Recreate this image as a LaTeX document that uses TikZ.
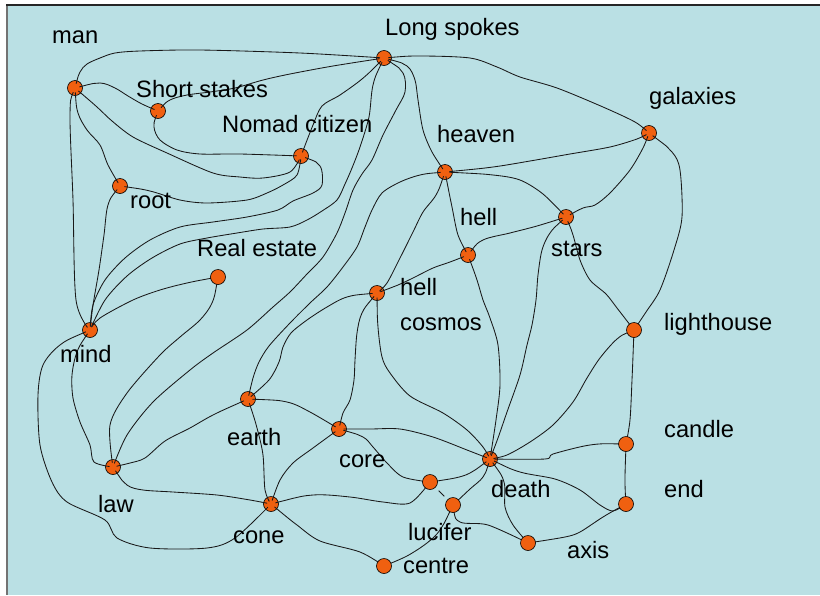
\documentclass[tikz,border=0pt]{standalone}
\usepackage{fontspec}
\setmainfont{Liberation Sans}
\begin{document}
\definecolor{paper}{RGB}{186,224,228}
\definecolor{dotfill}{RGB}{240,96,16}
\pgfdeclarelayer{sheet}
\pgfdeclarelayer{lowdots}
\pgfdeclarelayer{links}
\pgfsetlayers{sheet,lowdots,links,main}
\begin{tikzpicture}[x=1pt,y=-1pt,
  vtx/.style={circle,draw=black,line width=0.6pt,fill=dotfill,minimum size=15pt,inner sep=0pt},
  lbl/.style={anchor=base west,inner sep=0pt,font=\fontsize{23.7}{28}\selectfont},
  link/.style={draw=black!90,line width=0.85pt,line join=round,
    shorten <=4.5pt,shorten >=4.5pt}]
\useasboundingbox (0,0) rectangle (820,595);
% sheet and frame
\begin{pgfonlayer}{sheet}
\fill[white] (0,0) rectangle (820,595);
\fill[paper] (7,5) rectangle (820,595);
\draw[black!55,line width=2pt] (7,5) -- (7,595);
\draw[black!85,line width=1.4pt] (6,5) -- (820,5);
\end{pgfonlayer}

% vertices crossed by their connectors
\begin{pgfonlayer}{lowdots}
\node[vtx] (ls) at (384,58) {};
\node[vtx] (man) at (75,88) {};
\node[vtx] (ss) at (158,111) {};
\node[vtx] (nc) at (301,156) {};
\node[vtx] (gal) at (649,133) {};
\node[vtx] (heaven) at (445,172) {};
\node[vtx] (root) at (120,186) {};
\node[vtx] (stars) at (566,217) {};
\node[vtx] (hella) at (468,255) {};
\node[vtx] (hellb) at (377,293) {};
\node[vtx] (mind) at (90,330) {};
\node[vtx] (earth) at (248,399) {};
\node[vtx] (core) at (339,429) {};
\node[vtx] (death) at (490,459) {};
\node[vtx] (law) at (113,467) {};
\node[vtx] (cone) at (271,504) {};
\end{pgfonlayer}
% vertices drawn over their connectors
\node[vtx] (re) at (218,277) {};
\node[vtx] (light) at (634,330) {};
\node[vtx] (candle) at (626,444) {};
\node[vtx] (nx) at (430,482) {};
\node[vtx] (luc) at (453,505) {};
\node[vtx] (endn) at (626,504) {};
\node[vtx] (axis) at (528,543) {};
\node[vtx] (centre) at (384,566) {};

% labels
\node[lbl] (t-man) at (52,43) {man};
\node[lbl] (t-ls) at (385,35) {Long spokes};
\node[lbl] (t-ss) at (136,97) {Short stakes};
\node[lbl] (t-nc) at (222,132) {Nomad citizen};
\node[lbl] (t-gal) at (649,104) {galaxies};
\node[lbl] (t-heaven) at (437,142) {heaven};
\node[lbl] (t-root) at (130,208) {root};
\node[lbl] (t-hella) at (460,225) {hell};
\node[lbl] (t-stars) at (551,256) {stars};
\node[lbl] (t-re) at (197,256) {Real estate};
\node[lbl] (t-hellb) at (400,295) {hell};
\node[lbl] (t-cosmos) at (400,330) {cosmos};
\node[lbl] (t-mind) at (60,362) {mind};
\node[lbl] (t-light) at (664,330) {lighthouse};
\node[lbl] (t-earth) at (227,445) {earth};
\node[lbl] (t-candle) at (664,437) {candle};
\node[lbl] (t-core) at (339,467) {core};
\node[lbl] (t-death) at (491,497) {death};
\node[lbl] (t-end) at (664,497) {end};
\node[lbl] (t-law) at (98,512) {law};
\node[lbl] (t-lucifer) at (408,540) {lucifer};
\node[lbl] (t-cone) at (233,543) {cone};
\node[lbl] (t-axis) at (567,558) {axis};
\node[lbl] (t-centre) at (403,573) {centre};

% connectors
\begin{pgfonlayer}{links}
\tikzset{every path/.style={link}}
\draw plot[smooth] coordinates {(man) (80,72) (87,64) (100,58) (115,53) (140,51) (200,50) (300,53) (ls)};
\draw plot[smooth] coordinates {(man) (100,83) (115,88) (128,96) (142,104) (ss)};
\draw plot[smooth] coordinates {(ss) (170,100) (187,95) (210,92) (235,88) (263,80) (290,74) (333,66) (ls)};
\draw plot[smooth] coordinates {(ss) (154,127) (160,140) (177,150) (200,154) (240,154) (nc)};
\draw plot[smooth] coordinates {(man) (97,107) (112,121) (133,137) (167,153) (213,173) (240,177) (263,178) (290,172) (nc)};
\draw plot[smooth] coordinates {(man) (78,113) (87,130) (100,145) (108,165) (root)};
\draw plot[smooth] coordinates {(man) (70,115) (73,200) (76,300) (mind)};
\draw plot[smooth] coordinates {(root) (150,191) (180,200) (207,203) (247,200) (267,193) (283,185) (297,175) (nc)};
\draw plot[smooth] coordinates {(root) (108,205) (104,235) (99,270) (93,305) (mind)};
\draw plot[smooth] coordinates {(nc) (320,166) (322,185) (313,193) (293,201) (278,210) (247,217) (213,222) (180,227) (150,240) (125,258) (105,280) (93,305) (mind)};
\draw plot[smooth] coordinates {(ls) (362,79) (340,95) (322,106) (313,125) (nc)};
\draw plot[smooth] coordinates {(ls) (420,56) (470,58) (497,67) (520,77) (557,88) (603,107) (635,122) (gal)};
\draw plot[smooth] coordinates {(ls) (407,66) (415,80) (418,100) (423,130) (432,152) (heaven)};
\draw plot[smooth] coordinates {(ls) (373,85) (369,117) (360,147) (352,168) (345,184) (337,200) (322,211) (307,220) (290,227) (263,229) (237,233) (207,238) (180,244) (152,258) (127,276) (105,300) (mind)};
\draw plot[smooth] coordinates {(ls) (403,73) (405,92) (396,110) (383,135) (372,160) (362,174) (353,190) (345,213) (337,233) (323,257) (307,274) (290,292) (273,307) (247,330) (213,353) (190,370) (153,402) (127,435) (law)};
\draw plot[smooth] coordinates {(heaven) (420,175) (400,182) (382,193) (372,210) (365,227) (357,247) (343,267) (327,287) (310,303) (290,323) (269,346) (259,362) (253,378) (earth)};
\draw plot[smooth] coordinates {(heaven) (493,167) (530,161) (570,154) (610,147) (637,139) (gal)};
\draw plot[smooth] coordinates {(heaven) (493,175) (520,180) (543,194) (stars)};
\draw plot[smooth] coordinates {(heaven) (452,207) (458,235) (hella)};
\draw plot[smooth] coordinates {(heaven) (436,195) (423,212) (413,232) (400,258) (387,283) (hellb)};
\draw plot[smooth] coordinates {(stars) (583,208) (595,205) (610,193) (630,170) (643,148) (gal)};
\draw plot[smooth] coordinates {(gal) (672,152) (680,170) (682,217) (674,250) (660,290) (646,312) (light)};
\draw plot[smooth] coordinates {(stars) (573,235) (580,260) (590,280) (606,294) (617,308) (light)};
\draw plot[smooth] coordinates {(hella) (483,240) (510,233) (537,226) (stars)};
\draw plot[smooth] coordinates {(hella) (450,262) (433,268) (413,278) (398,285) (hellb)};
\draw plot[smooth] coordinates {(hellb) (347,297) (327,307) (307,320) (291,333) (283,347) (279,362) (269,380) (earth)};
\draw plot[smooth] coordinates {(stars) (550,233) (542,250) (538,275) (536,300) (532,325) (527,345) (520,375) (507,412) (498,438) (death)};
\draw plot[smooth] coordinates {(hella) (477,280) (483,300) (490,318) (498,345) (500,385) (496,420) (death)};
\draw plot[smooth] coordinates {(hellb) (378,327) (382,357) (390,373) (410,396) (443,413) (467,430) (483,447) (death)};
\draw plot[smooth] coordinates {(hellb) (362,313) (357,333) (355,360) (354,380) (350,400) (343,413) (core)};
\draw plot[smooth] coordinates {(light) (617,339) (600,358) (587,378) (573,402) (553,425) (530,442) (507,455) (death)};
\draw plot[smooth] coordinates {(light) (632,380) (630,420) (candle)};
\draw plot[smooth] coordinates {(candle) (625,482) (endn)};
\draw plot[smooth] coordinates {(candle) (590,445) (553,454) (545,459) (death)};
\draw plot[smooth] coordinates {(death) (520,472) (555,479) (580,490) (600,505) (613,511) (endn)};
\draw plot[smooth] coordinates {(endn) (603,517) (580,532) (565,537) (axis)};
\draw plot[smooth] coordinates {(death) (504,482) (505,507) (513,525) (axis)};
\draw plot[smooth] coordinates {(luc) (460,522) (488,525) (axis)};
\draw plot[smooth] coordinates {(death) (483,477) (470,489) (luc)};
\draw plot[smooth] coordinates {(death) (470,473) (455,478) (nx)};
\draw (nx) -- (luc);
\draw plot[smooth] coordinates {(cone) (313,495) (350,497) (383,502) (410,503) (nx)};
\draw plot[smooth] coordinates {(core) (363,437) (373,447) (387,463) (403,477) (nx)};
\draw plot[smooth] coordinates {(core) (370,429) (400,429) (433,437) (467,450) (death)};
\draw plot[smooth] coordinates {(earth) (287,402) (310,412) (core)};
\draw plot[smooth] coordinates {(core) (313,448) (293,463) (280,480) (cone)};
\draw plot[smooth] coordinates {(earth) (257,428) (263,455) (265,490) (cone)};
\draw plot[smooth] coordinates {(earth) (213,415) (190,428) (165,441) (145,458) (130,463) (law)};
\draw plot[smooth] coordinates {(law) (127,485) (143,490) (173,492) (217,495) (250,500) (cone)};
\draw plot[smooth] coordinates {(mind) (77,352) (72,375) (73,398) (80,422) (90,445) (94,462) (law)};
\draw plot[smooth] coordinates {(mind) (60,345) (43,365) (38,395) (40,445) (52,482) (67,502) (105,520) (117,538) (150,548) (207,548) (235,538) (cone)};
\draw plot[smooth] coordinates {(re) (187,283) (160,290) (133,300) (100,318) (mind)};
\draw plot[smooth] coordinates {(re) (212,303) (200,320) (180,337) (160,355) (127,393) (110,425) (law)};
\draw plot[smooth] coordinates {(cone) (297,525) (320,541) (360,552) (centre)};
\draw plot[smooth] coordinates {(luc) (440,530) (427,543) (407,556) (centre)};
\end{pgfonlayer}
\end{tikzpicture}
\end{document}
